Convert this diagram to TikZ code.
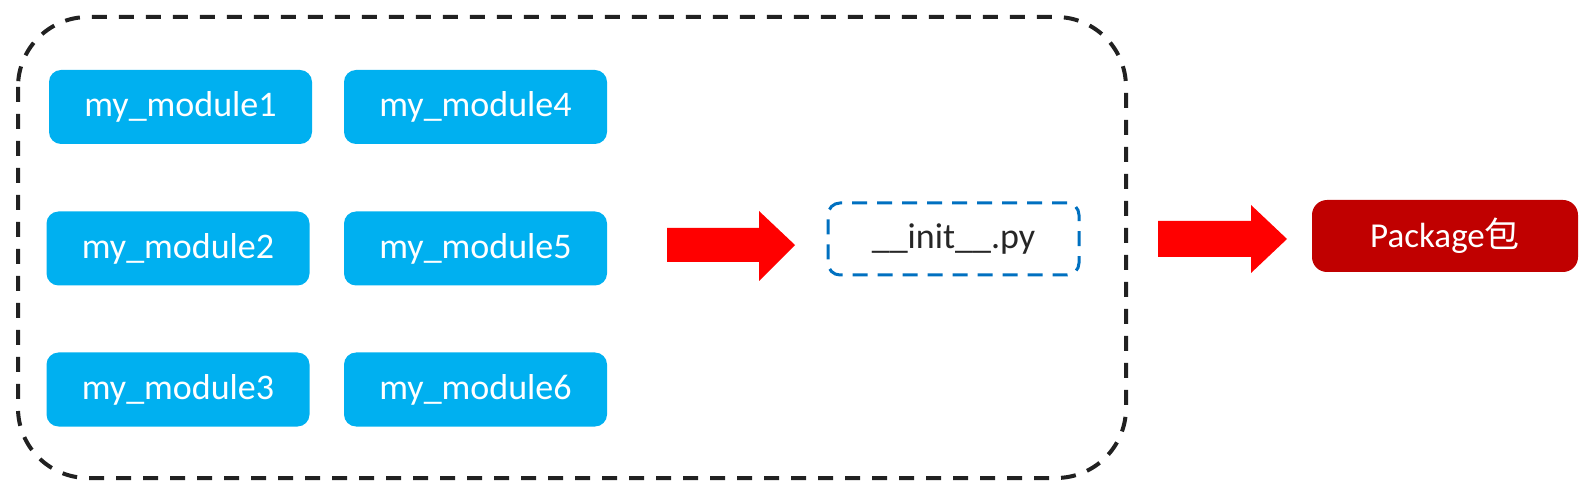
\documentclass[tikz,border=0pt]{standalone}
\usepackage{fontspec}
\setmainfont{Carlito}
\newfontfamily\cjkfont{Noto Sans CJK SC}
\definecolor{modblue}{HTML}{00B0F0}
\definecolor{pkgred}{HTML}{C00000}
\definecolor{arrred}{HTML}{FF0000}
\definecolor{initblue}{HTML}{0070C0}
\definecolor{txtgray}{HTML}{262626}
\tikzset{
  modbox/.style={fill=modblue, rounded corners=12pt, minimum width=263pt, minimum height=74pt, inner sep=0pt, text=white, font=\fontsize{36}{40}\selectfont},
  initbox/.style={draw=initblue, line width=3pt, dash pattern=on 15pt off 10pt, rounded corners=12pt, minimum width=251pt, minimum height=72pt, inner sep=0pt, text=txtgray, font=\fontsize{36}{40}\selectfont},
  pkgbox/.style={fill=pkgred, rounded corners=15pt, minimum width=266pt, minimum height=72pt, inner sep=0pt, text=white, font=\fontsize{35}{40}\selectfont},
  outerbox/.style={draw=black!87, line width=4pt, dash pattern=on 15pt off 12pt, rounded corners=70pt},
  blockarrow/.style={fill=arrred}
}
\begin{document}
\begin{tikzpicture}[x=1pt,y=-1pt]
\useasboundingbox (0,0) rectangle (1593,502);
\draw[outerbox] (18,17) rectangle (1126,478);
\node[modbox] (m1) at (180.5,107) {my\_module1};
\node[modbox] (m2) at (178,248.5) {my\_module2};
\node[modbox] (m3) at (178,389.5) {my\_module3};
\node[modbox] (m4) at (475.5,107) {my\_module4};
\node[modbox] (m5) at (475.5,248.5) {my\_module5};
\node[modbox] (m6) at (475.5,389.5) {my\_module6};
\node[initbox] (init) at (953.5,239) {\_\_init\_\_.py};
\node[pkgbox] (pkg) at (1445,236) {Package{\cjkfont 包}};
% block arrows
\fill[blockarrow] (667,228) -- (759,228) -- (759,211) -- (795,245) -- (759,281) -- (759,262) -- (667,262) -- cycle;
\fill[blockarrow] (1158,221) -- (1251,221) -- (1251,205) -- (1287,239) -- (1251,273) -- (1251,257) -- (1158,257) -- cycle;
\end{tikzpicture}
\end{document}
